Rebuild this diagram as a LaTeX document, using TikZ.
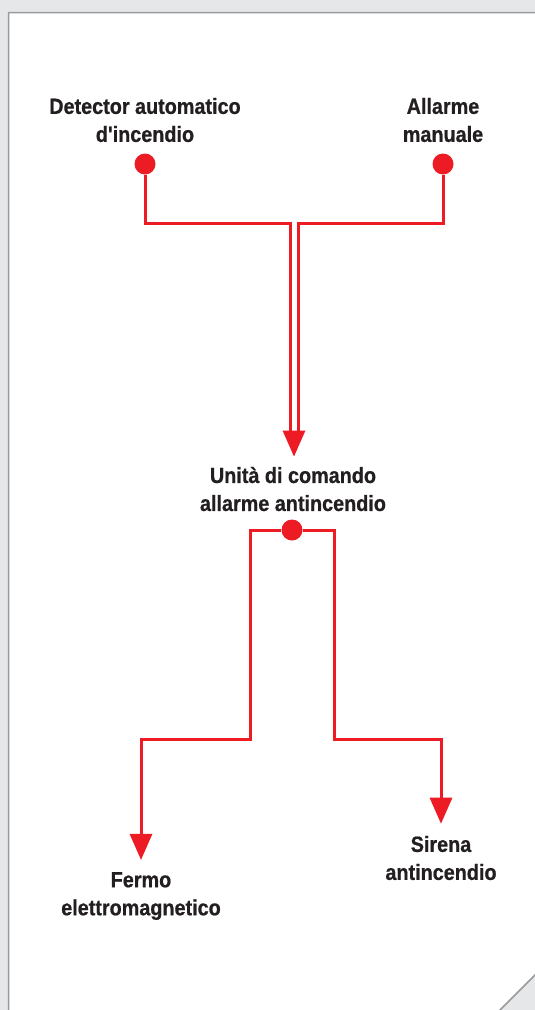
\documentclass[tikz,border=0pt]{standalone}
\usepackage{fontspec}
\setmainfont{Liberation Sans}[FakeStretch=0.9,Ligatures=TeXOff,
  BoldFeatures={FakeBold=0.7}]
\usetikzlibrary{calc,arrows.meta}
\definecolor{alarmred}{HTML}{ED1C24}
\definecolor{labelgray}{HTML}{231F20}
\definecolor{pagegray}{HTML}{E6E7E8}
\definecolor{edgegray}{HTML}{9A9A9A}
\tikzset{>={Triangle[width=22pt,length=26pt]}}
\tikzset{
  wire/.style={draw=alarmred,line width=3pt},
  tap/.style={circle,fill=alarmred,minimum size=21pt,inner sep=0pt},
  lbl/.style={align=center,inner sep=0pt,text=labelgray,
    font=\bfseries\fontsize{22}{28}\selectfont}
}

\begin{document}
\begin{tikzpicture}[x=1pt,y=-1pt]
    \useasboundingbox (0,0) rectangle (535,1010);
    % sheet
    \fill[pagegray] (0,0) rectangle (535,1010);
    \filldraw[fill=white,draw=edgegray,line width=1.5pt]
      (8.5,1014) -- (8.5,12.5) -- (540,12.5) -- (540,970) -- (496,1014) -- cycle;
    % labels and taps
    \node[lbl] (det) at (145,120) {Detector automatico\\d'incendio};
    \node[lbl] (man) at (443,120) {Allarme\\manuale};
    \foreach \src/\x in {det/145,man/443}
      \node[tap] (\src dot) at (\x,164) {};
    \node[lbl] (unit) at (293,489) {Unit\`a di comando\\allarme antincendio};
    \node[tap] (unitdot) at (292,530) {};
    \node[lbl] (fermo) at (141,896) {Fermo\\elettromagnetico};
    \node[lbl] (sirena) at (441,858) {Sirena\\antincendio};
    \coordinate (joinL) at (290,432);
    \coordinate (joinR) at (298,432);
    \coordinate (join) at (294,432);
    % wires
    \draw[wire] (detdot) -- ++(0,59) -| (joinL);
    \draw[wire] (mandot) -- ++(0,59) -| (joinR);
    \draw[wire,->,shorten >=10pt] (join) -- (join |- unit.north);
    \draw[wire,->,shorten >=12pt] (unitdot) -| ++(-42,209) -| (fermo.north);
    \draw[wire,->,shorten >=12pt] (unitdot) -| ++(42,209) -| (sirena.north);
\end{tikzpicture}
\end{document}
